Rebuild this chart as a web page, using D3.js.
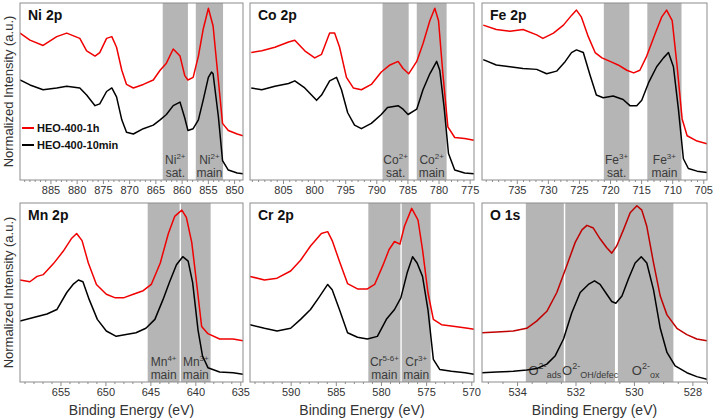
<!DOCTYPE html>
<html><head><meta charset="utf-8">
<script src="https://cdn.jsdelivr.net/npm/d3@7"></script>
<style>
body{margin:0;background:#fff}
svg{display:block}
text{font-family:"Liberation Sans",Arial,Helvetica,sans-serif}
</style>
</head><body>
<svg id="c" width="714" height="418"></svg>
<script>
// ---------------- DATA ----------------
const seriesNames = ["HEO-400-1h", "HEO-400-10min"];
const panelTitles = ["Ni 2p", "Co 2p", "Fe 2p", "Mn 2p", "Cr 2p", "O 1s"];

const niTicks = [885, 880, 875, 870, 865, 860, 855, 850];
const coTicks = [805, 800, 795, 790, 785, 780, 775];
const feTicks = [735, 730, 725, 720, 715, 710, 705];
const mnTicks = [655, 650, 645, 640, 635];
const crTicks = [590, 585, 580, 575, 570];
const oTicks = [534, 532, 530, 528];

const niDomain = [890.8, 848.3];
const coDomain = [810.3, 774.3];
const feDomain = [740.6, 704.4];
const mnDomain = [659.5, 634.7];
const crDomain = [594.5, 569.7];
const oDomain = [535.2, 527.5];

const niBands = [[863.6, 858.8], [857.3, 852.1]];
const coBands = [[789.0, 784.8], [783.5, 778.7]];
const feBands = [[721.0, 716.9], [714.0, 708.5]];
const mnBands = [[645.3, 641.75], [641.6, 638.3]];
const crBands = [[581.4, 577.85], [577.7, 574.5]];
const oBands = [[533.7, 532.4], [532.35, 530.65], [530.55, 528.65]];

// [element, superscript, second line]
const niLabels = [["Ni", "2+", "sat."], ["Ni", "2+", "main"]];
const coLabels = [["Co", "2+", "sat."], ["Co", "2+", "main"]];
const feLabels = [["Fe", "3+", "sat."], ["Fe", "3+", "main"]];
const mnLabels = [["Mn", "4+", "main"], ["Mn", "3+", "main"]];
const crLabels = [["Cr", "5-6+", "main"], ["Cr", "3+", "main"]];
// [element, superscript, subscript]
const oLabels = [["O", "2-", "ads"], ["O", "2-", "OH/defec"], ["O", "2-", "ox"]];

const niRed = [[890.8,0.83],[888.9,0.79],[886.4,0.76],[883.8,0.81],[881.9,0.83],[879.4,0.80],[878.1,0.73],[876.5,0.70],[875.6,0.72],[874.3,0.80],[873.3,0.81],[872.4,0.75],[871.4,0.62],[870.5,0.54],[869.2,0.52],[867.3,0.54],[865.4,0.565],[864.1,0.62],[862.9,0.66],[861.6,0.74],[860.3,0.70],[859.4,0.59],[858.8,0.565],[857.8,0.58],[856.8,0.70],[855.9,0.85],[854.9,0.97],[854.0,0.87],[853.0,0.565],[852.2,0.32],[851.1,0.28],[849.4,0.26],[848.3,0.25]];
const niBlack = [[890.8,0.565],[888.9,0.537],[886.4,0.51],[883.8,0.52],[881.9,0.53],[879.4,0.52],[878.1,0.48],[876.5,0.42],[875.6,0.43],[874.3,0.50],[873.3,0.52],[872.4,0.47],[871.4,0.34],[870.5,0.27],[869.2,0.26],[867.3,0.29],[865.4,0.31],[864.1,0.34],[862.9,0.37],[861.6,0.42],[860.3,0.44],[859.4,0.35],[858.8,0.28],[857.8,0.29],[856.8,0.34],[855.9,0.45],[854.9,0.58],[854.3,0.61],[854.0,0.60],[853.0,0.36],[852.2,0.11],[851.1,0.056],[849.4,0.04],[848.3,0.035]];

const coRed = [[810.1,0.72],[808.4,0.73],[806.3,0.75],[804.1,0.78],[803.1,0.79],[801.5,0.73],[799.9,0.69],[798.8,0.71],[797.5,0.83],[796.7,0.83],[795.9,0.75],[794.8,0.58],[793.7,0.52],[792.4,0.51],[790.8,0.54],[789.2,0.61],[787.8,0.65],[786.5,0.67],[785.7,0.63],[784.8,0.60],[783.5,0.67],[782.5,0.77],[781.4,0.90],[780.6,0.97],[780.0,0.90],[779.3,0.60],[778.5,0.30],[777.4,0.24],[775.8,0.235],[774.3,0.225]];
const coBlack = [[810.1,0.52],[808.4,0.51],[806.3,0.53],[804.1,0.545],[803.1,0.56],[801.5,0.52],[799.6,0.45],[798.8,0.48],[797.5,0.56],[796.4,0.58],[795.6,0.51],[794.6,0.38],[793.5,0.31],[792.4,0.29],[790.8,0.32],[789.2,0.37],[788.2,0.41],[786.5,0.42],[785.7,0.40],[784.9,0.37],[783.5,0.40],[782.5,0.51],[781.4,0.60],[780.3,0.67],[779.8,0.62],[779.1,0.41],[778.4,0.15],[777.4,0.056],[775.8,0.04],[774.3,0.035]];

const feRed = [[740.4,0.875],[738.3,0.85],[736.1,0.84],[734.0,0.85],[731.8,0.82],[730.8,0.80],[729.1,0.83],[727.5,0.875],[726.2,0.93],[725.4,0.96],[724.6,0.92],[723.5,0.81],[722.4,0.72],[721.3,0.69],[720.0,0.67],[718.7,0.65],[717.3,0.62],[716.2,0.605],[715.2,0.62],[714.1,0.70],[712.7,0.83],[711.7,0.92],[710.9,0.96],[710.0,0.90],[709.2,0.64],[708.4,0.345],[707.6,0.25],[706.0,0.22],[704.4,0.205]];
const feBlack = [[740.4,0.68],[738.3,0.65],[736.1,0.64],[734.0,0.63],[731.8,0.625],[730.2,0.60],[728.6,0.615],[727.2,0.67],[726.2,0.72],[725.4,0.735],[724.3,0.72],[723.2,0.59],[722.2,0.48],[721.1,0.465],[719.5,0.475],[717.9,0.455],[716.8,0.42],[715.7,0.42],[714.9,0.45],[713.8,0.55],[712.5,0.64],[711.4,0.69],[710.6,0.72],[709.8,0.64],[709.0,0.40],[708.2,0.12],[707.4,0.065],[706.0,0.05],[704.4,0.043]];

const mnRed = [[659.5,0.57],[658.4,0.56],[657.6,0.59],[656.9,0.60],[655.8,0.66],[654.7,0.73],[653.8,0.80],[653.2,0.83],[652.6,0.79],[651.9,0.665],[651.0,0.545],[649.9,0.49],[648.9,0.47],[648.0,0.47],[646.9,0.49],[645.8,0.51],[644.9,0.545],[643.9,0.665],[643.0,0.83],[642.3,0.925],[641.5,0.96],[641.0,0.92],[640.4,0.78],[639.9,0.57],[639.3,0.31],[638.6,0.27],[637.3,0.24],[635.8,0.24],[634.7,0.23]];
const mnBlack = [[659.5,0.34],[658.0,0.36],[656.5,0.38],[655.4,0.405],[654.3,0.50],[653.6,0.545],[653.0,0.57],[652.5,0.56],[651.8,0.46],[650.9,0.35],[649.9,0.285],[648.8,0.255],[647.7,0.265],[646.6,0.275],[645.5,0.30],[644.5,0.35],[643.6,0.46],[642.9,0.555],[642.1,0.655],[641.4,0.70],[640.8,0.675],[640.3,0.555],[639.7,0.29],[639.2,0.145],[638.6,0.08],[637.3,0.056],[635.8,0.052],[634.7,0.043]];

const crRed = [[594.5,0.59],[592.9,0.57],[591.5,0.58],[590.0,0.62],[588.9,0.68],[587.8,0.76],[586.6,0.83],[585.9,0.84],[585.4,0.79],[584.6,0.675],[583.7,0.55],[582.6,0.52],[581.5,0.52],[580.7,0.545],[579.8,0.65],[579.1,0.74],[578.5,0.785],[577.9,0.77],[577.4,0.87],[576.6,0.97],[575.9,0.905],[575.4,0.74],[574.8,0.50],[574.2,0.35],[573.3,0.32],[571.8,0.31],[570.4,0.30],[569.7,0.295]];
const crBlack = [[594.5,0.32],[592.9,0.30],[591.5,0.285],[590.0,0.30],[588.9,0.35],[587.8,0.405],[586.9,0.47],[585.9,0.545],[585.4,0.515],[584.6,0.405],[583.7,0.275],[582.6,0.25],[581.5,0.24],[580.4,0.255],[579.4,0.35],[578.5,0.405],[577.8,0.47],[577.1,0.61],[576.5,0.70],[576.0,0.665],[575.4,0.59],[574.8,0.405],[574.2,0.126],[573.5,0.07],[572.2,0.06],[570.7,0.052],[569.7,0.043]];

const oRed = [[535.2,0.275],[534.7,0.28],[534.13,0.285],[533.67,0.30],[533.33,0.34],[532.98,0.395],[532.64,0.50],[532.3,0.65],[532.01,0.78],[531.78,0.85],[531.61,0.875],[531.39,0.86],[531.16,0.80],[530.93,0.75],[530.76,0.72],[530.59,0.76],[530.36,0.85],[530.13,0.945],[529.9,0.985],[529.73,0.96],[529.56,0.87],[529.33,0.665],[529.1,0.48],[528.87,0.375],[528.53,0.30],[528.19,0.265],[527.85,0.24],[527.5,0.23]];
const oBlack = [[535.2,0.052],[534.7,0.056],[534.13,0.06],[533.67,0.067],[533.33,0.075],[532.98,0.10],[532.7,0.145],[532.41,0.24],[532.13,0.385],[531.84,0.50],[531.56,0.545],[531.35,0.565],[531.16,0.545],[530.93,0.49],[530.76,0.45],[530.62,0.44],[530.41,0.48],[530.18,0.58],[529.96,0.665],[529.75,0.70],[529.56,0.665],[529.33,0.515],[529.1,0.30],[528.87,0.165],[528.59,0.09],[528.19,0.052],[527.85,0.03],[527.5,0.015]];

// ---------------- LAYOUT ----------------
const svg = d3.select("#c");
const cols = [[20, 243], [250, 474], [482, 707]];
const rows = [[3, 180], [203, 382]];
const panels = [
  {title: panelTitles[0], c: 0, r: 0, dom: niDomain, ticks: niTicks, minor: 1, bands: niBands, labels: niLabels, red: niRed, black: niBlack},
  {title: panelTitles[1], c: 1, r: 0, dom: coDomain, ticks: coTicks, minor: 1, bands: coBands, labels: coLabels, red: coRed, black: coBlack},
  {title: panelTitles[2], c: 2, r: 0, dom: feDomain, ticks: feTicks, minor: 1, bands: feBands, labels: feLabels, red: feRed, black: feBlack},
  {title: panelTitles[3], c: 0, r: 1, dom: mnDomain, ticks: mnTicks, minor: 1, bands: mnBands, labels: mnLabels, red: mnRed, black: mnBlack},
  {title: panelTitles[4], c: 1, r: 1, dom: crDomain, ticks: crTicks, minor: 1, bands: crBands, labels: crLabels, red: crRed, black: crBlack},
  {title: panelTitles[5], c: 2, r: 1, dom: oDomain, ticks: oTicks, minor: 0.5, bands: oBands, labels: oLabels, red: oRed, black: oBlack, o: true}
];

const bandFill = "#b5b5b5";
const frameCol = "#8c8c8c";
const labelCol = "#3a3a3a";

panels.forEach((p, i) => {
  const [x0, x1] = cols[p.c];
  const [y0, y1] = rows[p.r];
  const x = d3.scaleLinear().domain(p.dom).range([x0, x1]);
  const y = d3.scaleLinear().domain([0, 1]).range([y1, y0]);
  const g = svg.append("g");

  const clipId = "clip" + i;
  svg.append("clipPath").attr("id", clipId).append("rect")
    .attr("x", x0).attr("y", y0).attr("width", x1 - x0).attr("height", y1 - y0);

  // bands
  g.selectAll("rect.band").data(p.bands).join("rect").attr("class", "band")
    .attr("x", d => x(d[0])).attr("width", d => x(d[1]) - x(d[0]))
    .attr("y", y0).attr("height", y1 - y0).attr("fill", bandFill);

  // band labels
  p.labels.forEach((lb, k) => {
    const cx = (x(p.bands[k][0]) + x(p.bands[k][1])) / 2;
    if (p.o) {
      const t = g.append("text").attr("x", cx).attr("y", y1 - 7)
        .attr("text-anchor", "middle").attr("fill", labelCol).attr("font-size", 13);
      t.append("tspan").text(lb[0]);
      t.append("tspan").attr("dy", -6).attr("font-size", 9).text(lb[1]);
      t.append("tspan").attr("dy", 9).attr("font-size", 9).text(lb[2]);
    } else {
      const t = g.append("text").attr("x", cx).attr("y", y1 - 16)
        .attr("text-anchor", "middle").attr("fill", labelCol).attr("font-size", 12);
      t.append("tspan").text(lb[0]);
      t.append("tspan").attr("dy", -5).attr("font-size", 8).text(lb[1]);
      g.append("text").attr("x", cx).attr("y", y1 - 3)
        .attr("text-anchor", "middle").attr("fill", labelCol).attr("font-size", 12).text(lb[2]);
    }
  });

  // spectra
  const line = d3.line().x(d => x(d[0])).y(d => y(d[1]));
  const lg = g.append("g").attr("clip-path", `url(#${clipId})`);
  lg.append("path").datum(p.red).attr("d", line).attr("fill", "none")
    .attr("stroke", p.o ? "#c00000" : "#f00000").attr("stroke-width", 1.5).attr("stroke-linejoin", "round");
  lg.append("path").datum(p.black).attr("d", line).attr("fill", "none")
    .attr("stroke", "#000").attr("stroke-width", 1.5).attr("stroke-linejoin", "round");

  // frame
  g.append("rect").attr("x", x0).attr("y", y0).attr("width", x1 - x0).attr("height", y1 - y0)
    .attr("fill", "none").attr("stroke", frameCol).attr("stroke-width", 1);

  // axis
  const lo = Math.min(...p.dom), hi = Math.max(...p.dom);
  const minors = d3.range(Math.ceil(lo / p.minor) * p.minor, hi, p.minor)
    .filter(v => !p.ticks.some(t => Math.abs(t - v) < 1e-6));
  g.append("g").attr("transform", `translate(0,${y1})`)
    .call(d3.axisBottom(x).tickValues(minors).tickSize(2).tickFormat(""))
    .call(a => a.select(".domain").remove())
    .call(a => a.selectAll("line").attr("stroke", frameCol));
  g.append("g").attr("transform", `translate(0,${y1})`)
    .call(d3.axisBottom(x).tickValues(p.ticks).tickSize(4).tickPadding(2).tickFormat(d3.format("d")))
    .call(a => a.select(".domain").remove())
    .call(a => a.selectAll("line").attr("stroke", frameCol))
    .call(a => a.selectAll("text").attr("font-size", 11).attr("fill", "#333")
      .attr("font-family", "'Liberation Sans', Arial, sans-serif"));

  // title
  g.append("text").attr("x", x0 + 8).attr("y", y0 + 17).attr("font-size", 14)
    .attr("font-weight", "bold").attr("fill", "#111").text(p.title);

  if (p.r === 1) {
    g.append("text").attr("x", (x0 + x1) / 2).attr("y", 415).attr("text-anchor", "middle")
      .attr("font-size", 14).attr("fill", "#333").text("Binding Energy (eV)");
  }
  if (p.c === 0) {
    g.append("text").attr("transform", `translate(13,${(y0 + y1) / 2}) rotate(-90)`)
      .attr("text-anchor", "middle").attr("font-size", 13).attr("fill", "#333")
      .text("Normalized Intensity (a.u.)");
  }

  // legend in first panel
  if (i === 0) {
    const leg = g.append("g");
    [["#f00000", 128], ["#000", 145]].forEach((s, k) => {
      leg.append("line").attr("x1", 22).attr("x2", 34).attr("y1", s[1]).attr("y2", s[1])
        .attr("stroke", s[0]).attr("stroke-width", 2);
      leg.append("text").attr("x", 37).attr("y", s[1] + 4).attr("font-size", 11)
        .attr("font-weight", "bold").attr("fill", "#111").text(seriesNames[k]);
    });
  }
});
</script>
</body></html>
